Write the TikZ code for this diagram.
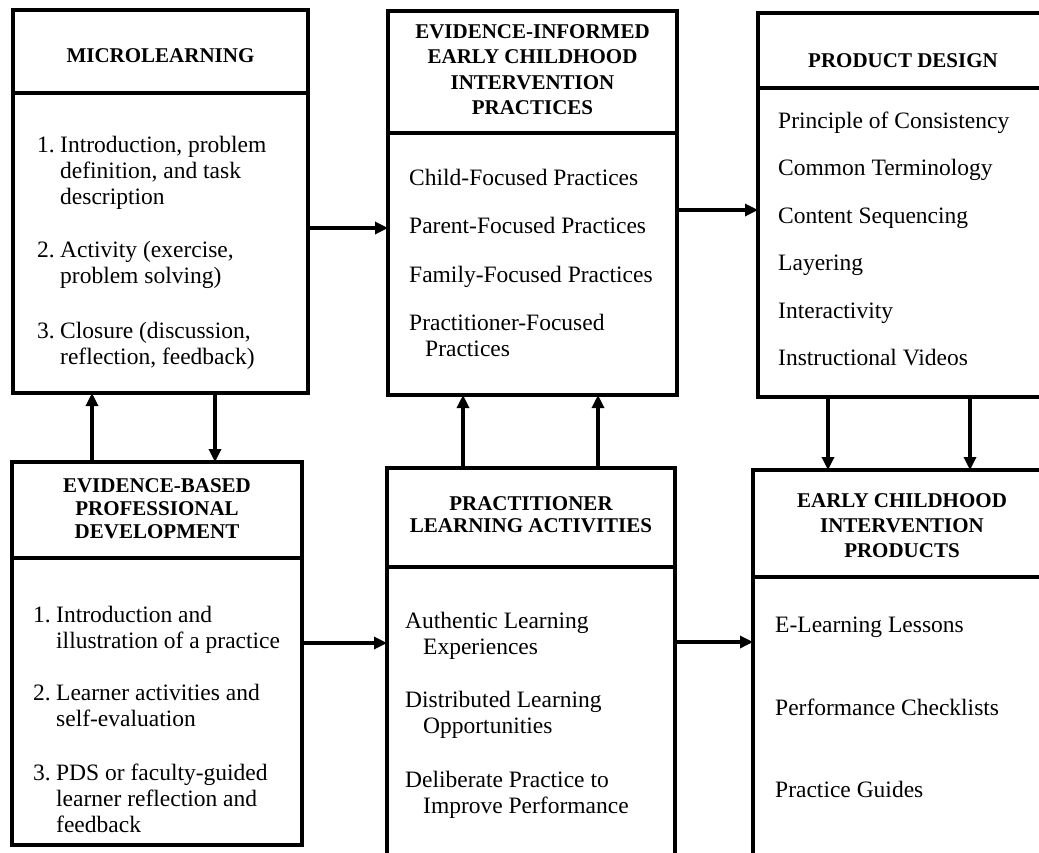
\documentclass[tikz,border=0pt]{standalone}
\usepackage{fontspec}
\setmainfont{Liberation Serif}
\usetikzlibrary{arrows.meta}
\tikzset{
  frame/.style={draw, line width=3.2pt, rectangle, inner sep=0pt, outer sep=0pt, anchor=north west},
  arr/.style={line width=3.2pt, -{Triangle[length=13pt,width=12pt]}},
  hd/.style={font=\bfseries\fontsize{21}{25}\selectfont, align=center, anchor=base, inner sep=0pt},
  bd/.style={font=\fontsize{23.5}{26}\selectfont, align=left, anchor=base west, inner sep=0pt},
}
\newcommand{\num}[1]{\makebox[23pt][l]{#1}}
\newcommand{\ind}{\hspace*{23pt}}
\begin{document}
\begin{tikzpicture}[x=1pt,y=-1pt]
\useasboundingbox (0,0) rectangle (1039,852);
\clip (0,0) rectangle (1039,852);
\fill[white] (0,0) rectangle (1039,852);

% boxes
\node[frame, minimum width=295pt, minimum height=83pt] (h1) at (13,10) {};
\node[frame, minimum width=295pt, minimum height=300pt] (b1) at (h1.south west) {};
\node[frame, minimum width=289pt, minimum height=122pt] (h2) at (388,11) {};
\node[frame, minimum width=289pt, minimum height=262pt] (b2) at (h2.south west) {};
\node[frame, minimum width=290pt, minimum height=75pt] (h3) at (758,13) {};
\node[frame, minimum width=290pt, minimum height=309pt] (b3) at (h3.south west) {};
\node[frame, minimum width=290pt, minimum height=96pt] (h4) at (12,462) {};
\node[frame, minimum width=290pt, minimum height=287pt] (b4) at (h4.south west) {};
\node[frame, minimum width=288pt, minimum height=99pt] (h5) at (387,468) {};
\node[frame, minimum width=288pt, minimum height=303pt] (b5) at (h5.south west) {};
\node[frame, minimum width=298pt, minimum height=107pt] (h6) at (753,470) {};
\node[frame, minimum width=298pt, minimum height=293pt] (b6) at (h6.south west) {};

% headers (anchor base = baseline of the last line)
\node[hd] (t1) at (160.5,62) {MICROLEARNING};
\node[hd, font=\bfseries\fontsize{21}{25.5}\selectfont] (t2) at (532.5,114.5) {EVIDENCE-INFORMED\\EARLY CHILDHOOD\\INTERVENTION\\PRACTICES};
\node[hd] (t3) at (903,67) {PRODUCT DESIGN};
\node[hd, font=\bfseries\fontsize{21}{23}\selectfont] (t4) at (157,538) {EVIDENCE-BASED\\PROFESSIONAL\\DEVELOPMENT};
\node[hd, font=\bfseries\fontsize{21}{22.5}\selectfont] (t5) at (531,532.5) {PRACTITIONER\\LEARNING ACTIVITIES};
\node[hd] (t6) at (902,557) {EARLY CHILDHOOD\\INTERVENTION\\PRODUCTS};

% body: microlearning
\node[bd] (m1) at (37,204) {\num{1.}Introduction, problem\\\ind definition, and task\\\ind description};
\node[bd] (m2) at (37,283) {\num{2.}Activity (exercise,\\\ind problem solving)};
\node[bd] (m3) at (37,364) {\num{3.}Closure (discussion,\\\ind reflection, feedback)};

% body: evidence-informed practices
\node[bd] (e1) at (409,185) {Child-Focused Practices};
\node[bd] (e2) at (409,233) {Parent-Focused Practices};
\node[bd] (e3) at (409,282) {Family-Focused Practices};
\node[bd] (e4) at (409,356) {Practitioner-Focused\\\hspace*{16pt}Practices};

% body: product design
\node[bd] (d1) at (778,128) {Principle of Consistency};
\node[bd] (d2) at (778,175) {Common Terminology};
\node[bd] (d3) at (778,223) {Content Sequencing};
\node[bd] (d4) at (778,270) {Layering};
\node[bd] (d5) at (778,318) {Interactivity};
\node[bd] (d6) at (778,365) {Instructional Videos};

% body: evidence-based PD
\node[bd] (p1) at (33,648) {\num{1.}Introduction and\\\ind illustration of a practice};
\node[bd] (p2) at (33,726) {\num{2.}Learner activities and\\\ind self-evaluation};
\node[bd] (p3) at (33,832) {\num{3.}PDS or faculty-guided\\\ind learner reflection and\\\ind feedback};

% body: practitioner learning activities
\node[bd] (l1) at (405,654) {Authentic Learning\\\hspace*{18pt}Experiences};
\node[bd] (l2) at (405,733) {Distributed Learning\\\hspace*{18pt}Opportunities};
\node[bd] (l3) at (405,813) {Deliberate Practice to\\\hspace*{18pt}Improve Performance};

% body: products
\node[bd] (r1) at (775,632) {E-Learning Lessons};
\node[bd] (r2) at (775,715) {Performance Checklists};
\node[bd] (r3) at (775,797) {Practice Guides};

% connectors
\coordinate (c1) at ([yshift=15pt]b1.east);
\draw[arr] (c1) -- (c1 -| b2.west);
\coordinate (c2) at ([yshift=54pt]b2.east);
\draw[arr] (c2) -- (c2 -| b3.west);
\coordinate (c3) at ([xshift=-65pt]h4.north);
\draw[arr] (c3) -- (c3 |- b1.south);
\coordinate (c4) at ([xshift=54.5pt]b1.south);
\draw[arr] (c4) -- (c4 |- h4.north);
\coordinate (c5) at ([xshift=-68pt]h5.north);
\draw[arr] (c5) -- (c5 |- b2.south);
\coordinate (c6) at ([xshift=67pt]h5.north);
\draw[arr] (c6) -- (c6 |- b2.south);
\coordinate (c7) at ([xshift=-75pt]b3.south);
\draw[arr] (c7) -- (c7 |- h6.north);
\coordinate (c8) at ([xshift=67pt]b3.south);
\draw[arr] (c8) -- (c8 |- h6.north);
\coordinate (c9) at ([yshift=58.5pt]b4.east);
\draw[arr] (c9) -- (c9 -| b5.west);
\coordinate (c10) at ([yshift=76.5pt]b5.east);
\draw[arr] (c10) -- (c10 -| b6.west);
\end{tikzpicture}
\end{document}
